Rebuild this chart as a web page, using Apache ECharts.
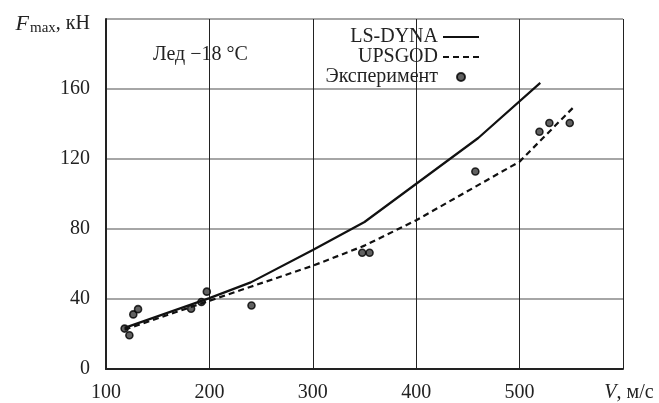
<!DOCTYPE html>
<html>
<head>
<meta charset="utf-8">
<script src="https://cdn.jsdelivr.net/npm/echarts@6/dist/echarts.min.js"></script>
<style>
  html, body { margin: 0; padding: 0; background: #fff; }
  #chart { width: 659px; height: 403px; }
</style>
</head>
<body>
<div id="chart"></div>
<script>
// V, м/с -> F max, кН
const lsDyna = [[118, 23.5], [200, 40.5], [240, 49.5], [300, 68], [350, 84], [460, 132], [520, 163.5]];
const upsgod = [[118, 22.5], [200, 39], [240, 47], [300, 59], [350, 70.5], [400, 85], [500, 118.5], [552, 149.5]];
const experiment = [
  [118, 23.1], [122.6, 19.3], [126.4, 31.2], [131, 34.2], [182.3, 34.4], [192.3, 38.3],
  [197.5, 44.2], [240.7, 36.3], [347.8, 66.4], [354.9, 66.4], [457.2, 112.9],
  [519.2, 135.6], [528.8, 140.6], [548.5, 140.6]
];
const xTicks = [100, 200, 300, 400, 500, 600];
const yTicks = [0, 40, 80, 120, 160, 200];

const font = '"Liberation Serif", "DejaVu Serif", serif';
const chart = echarts.init(document.getElementById('chart'));

chart.setOption({
  animation: false,
  grid: { left: 106, right: 36, top: 19, bottom: 34 },
  textStyle: { fontFamily: font },
  legend: {
    orient: 'vertical',
    right: 174,
    top: 22,
    align: 'right',
    itemWidth: 36,
    itemHeight: 8,
    itemGap: 0,
    textStyle: { fontFamily: font, fontSize: 20, color: '#222' },
    data: [
      { name: 'LS-DYNA', itemStyle: { opacity: 0 } },
      { name: 'UPSGOD', itemStyle: { opacity: 0 } },
      { name: 'Эксперимент', icon: 'circle' }
    ]
  },
  graphic: [{
    type: 'text',
    left: 153,
    top: 45,
    style: { text: 'Лед −18 °C', font: '20px ' + font, fill: '#222' }
  }],
  xAxis: {
    type: 'value',
    min: xTicks[0],
    max: xTicks[xTicks.length - 1],
    interval: 100,
    axisLine: { show: true, lineStyle: { color: '#222', width: 2 } },
    axisTick: { show: false },
    axisLabel: {
      margin: 14,
      fontSize: 20,
      color: '#222',
      fontFamily: font,
      formatter: v => v === 600 ? '{i|V}{t|, м/с}' : String(v),
      rich: {
        i: { fontStyle: 'italic', fontSize: 20, fontFamily: font, color: '#222', padding: [0, 0, 0, 12] },
        t: { fontSize: 20, fontFamily: font, color: '#222' }
      }
    },
    splitLine: { show: true, lineStyle: { color: '#222', width: 1 } }
  },
  yAxis: {
    type: 'value',
    min: yTicks[0],
    max: yTicks[yTicks.length - 1],
    interval: 40,
    name: '{f|F}{s|max}{t|, кН}',
    nameLocation: 'end',
    nameGap: -5,
    nameTextStyle: {
      align: 'right',
      verticalAlign: 'middle',
      padding: [0, 16, 0, 0],
      fontSize: 20,
      color: '#222',
      fontFamily: font,
      rich: {
        f: { fontStyle: 'italic', fontSize: 22, fontFamily: font, color: '#222' },
        s: { fontSize: 15, fontFamily: font, color: '#222', padding: [9, 0, 0, 1] },
        t: { fontSize: 20, fontFamily: font, color: '#222' }
      }
    },
    axisLine: { show: true, lineStyle: { color: '#222', width: 2 } },
    axisTick: { show: false },
    axisLabel: {
      margin: 16,
      fontSize: 20,
      color: '#222',
      fontFamily: font,
      formatter: v => v === 200 ? '' : String(v)
    },
    splitLine: { show: true, lineStyle: { color: '#888', width: 1.5 } }
  },
  series: [
    {
      name: 'LS-DYNA',
      type: 'line',
      data: lsDyna,
      symbol: 'none',
      lineStyle: { color: '#111', width: 2.2 },
      itemStyle: { color: '#111' }
    },
    {
      name: 'UPSGOD',
      type: 'line',
      data: upsgod,
      symbol: 'none',
      lineStyle: { color: '#111', width: 2.2, type: [6, 4] },
      itemStyle: { color: '#111' }
    },
    {
      name: 'Эксперимент',
      type: 'scatter',
      data: experiment,
      symbol: 'circle',
      symbolSize: 7,
      itemStyle: { color: '#3a3a3a', borderColor: '#000', borderWidth: 1.6 }
    }
  ]
});
</script>
</body>
</html>
